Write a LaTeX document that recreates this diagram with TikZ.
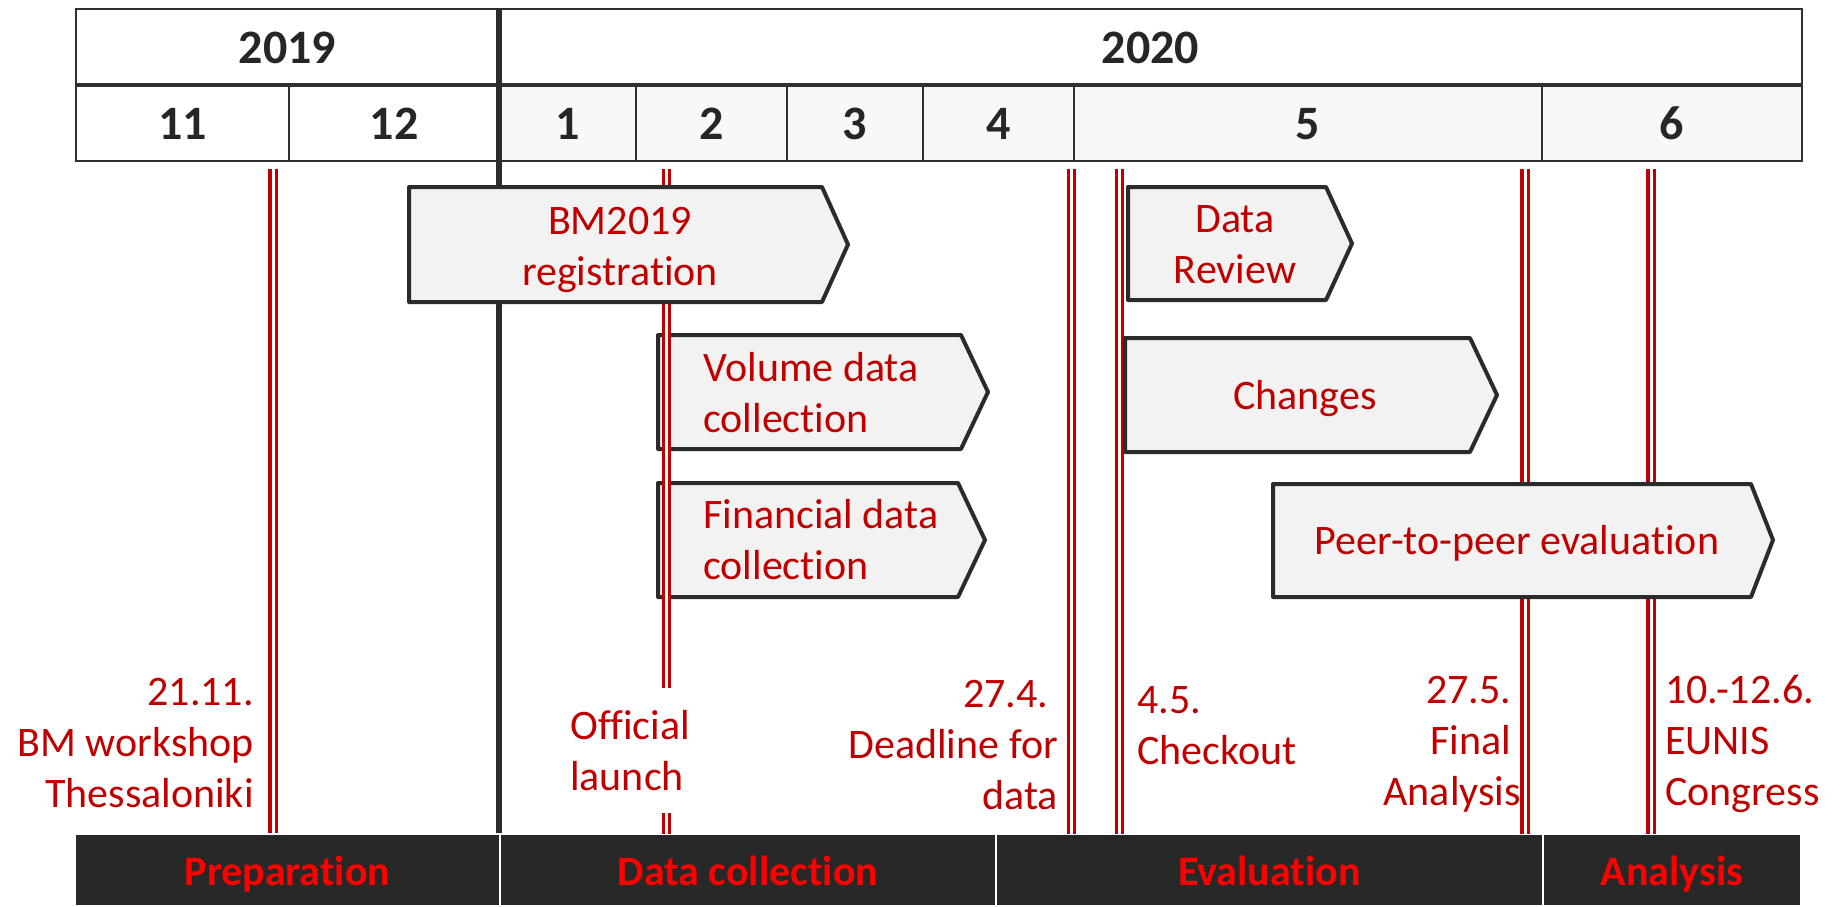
\documentclass[tikz,border=0pt]{standalone}
\usepackage{fontspec}
\setmainfont{Carlito}[Ligatures=NoCommon]
\definecolor{boxfill}{HTML}{F2F2F2}
\definecolor{boxline}{HTML}{2B2B2B}
\definecolor{txtred}{HTML}{C00000}
\definecolor{brightred}{HTML}{FF0000}
\definecolor{barfill}{HTML}{282828}
\definecolor{gridline}{HTML}{303030}
\definecolor{monthfill}{HTML}{F8F8F8}
\definecolor{darktext}{HTML}{262626}
\newcommand\lstr{\rule[-12pt]{0pt}{48pt}}
\tikzset{
  stage/.style={draw=boxline, fill=boxfill, line width=4pt, line join=round},
  redtext/.style={inner sep=0pt, text=txtred, font=\fontsize{42}{51}\selectfont},
  milestone/.style={draw=txtred, double=white, line width=3.1pt, double distance=3pt},
  phasebar/.style={fill=barfill},
  phasetext/.style={inner sep=0pt, text=brightred, font=\bfseries\fontsize{42}{51}\selectfont},
  gridouter/.style={draw=gridline, line width=2.6pt},
  gridinner/.style={draw=gridline, line width=2pt},
  headtext/.style={inner sep=0pt, text=darktext, font=\bfseries\fontsize{48}{58}\selectfont},
}
\begin{document}
\begin{tikzpicture}[x=1pt,y=-1pt]
\fill[white] (0,0) rectangle (1841,906);
\useasboundingbox (0,0) rectangle (1841,906);

% ---------- header table ----------
\fill[monthfill] (499,85) rectangle (1802,161);
\draw[gridouter] (76,9) rectangle (1802,161);
\draw[gridouter, line width=3.2pt] (76,85) -- (1802,85);
\foreach \x in {289,636,787,923,1074,1542} \draw[gridinner] (\x,85) -- (\x,161);
\draw[line width=5.5pt, draw=boxline] (499,9) -- (499,833);

\node[headtext, anchor=base] (y2019) at (287.5,63) {2019};
\node[headtext, anchor=base] (y2020) at (1150.5,63) {2020};
\node[headtext, anchor=base] (m11) at (182.5,139) {11};
\node[headtext, anchor=base] (m12) at (394,139) {12};
\node[headtext, anchor=base] (m1) at (567.5,139) {1};
\node[headtext, anchor=base] (m2) at (711.5,139) {2};
\node[headtext, anchor=base] (m3) at (855,139) {3};
\node[headtext, anchor=base] (m4) at (998.5,139) {4};
\node[headtext, anchor=base] (m5) at (1308,139) {5};
\node[headtext, anchor=base] (m6) at (1672,139) {6};

% ---------- stages below the milestone lines ----------
\draw[stage] (658,335) -- (961,335) -- (988,392) -- (961,449) -- (658,449) -- cycle;
\draw[stage] (658,483) -- (958,483) -- (985,540) -- (958,597) -- (658,597) -- cycle;

% ---------- milestone lines ----------
\draw[milestone] (273,169) -- (273,833);
\draw[milestone] (666.5,169) -- (666.5,688);
\draw[milestone] (666.5,813) -- (666.5,834);
\draw[milestone] (1071.5,169) -- (1071.5,834);
\draw[milestone] (1119.5,169) -- (1119.5,834);
\draw[milestone] (1525,169) -- (1525,834);
\draw[milestone] (1651,169) -- (1651,834);

% ---------- stages above the milestone lines ----------
\draw[stage] (409,187) -- (822,187) -- (848,244.5) -- (822,302) -- (409,302) -- cycle;
\draw[stage] (1128,187) -- (1326,187) -- (1352,243.5) -- (1326,300) -- (1128,300) -- cycle;
\draw[stage] (1125,338) -- (1470,338) -- (1497,395) -- (1470,452) -- (1125,452) -- cycle;
\draw[stage] (1273,484) -- (1751,484) -- (1773,540) -- (1751,597) -- (1273,597) -- cycle;

% ---------- stage texts ----------
\node[redtext, align=center] (treg) at (620,247.5) {\lstr BM2019\\registration\lstr};
\node[redtext, align=left, anchor=west] (tvol) at (703,395) {\lstr Volume data\\collection\lstr};
\node[redtext, align=left, anchor=west] (tfin) at (703,542) {\lstr Financial data\\collection\lstr};
\node[redtext, align=center] (tdr) at (1235,245.5) {\lstr Data\\Review\lstr};
\node[redtext, anchor=base] (tch) at (1305,409) {Changes};
\node[redtext, anchor=base] (tp2p) at (1517,554) {Peer-to-peer evaluation};

% ---------- milestone texts ----------
\node[redtext, align=right, anchor=east] (e1) at (254,744.5) {\lstr 21.11.\\BM workshop\\Thessaloniki\lstr};
\node[redtext, align=left, anchor=west] (e2) at (570,753) {\lstr Official\\launch\lstr};
\node[redtext, align=right, anchor=east] (e3) at (1058,746.5) {\lstr 27.4.\kern9.5pt\\Deadline for\\data\lstr};
\node[redtext, align=left, anchor=west] (e4) at (1137,726.5) {\lstr 4.5.\\Checkout\lstr};
\node[redtext, align=right, anchor=east] (e5) at (1521,742) {\lstr 27.5.\kern9.5pt\\Final\kern9.5pt\\Analysis\lstr};
\node[redtext, align=left, anchor=west] (e6) at (1665,742.5) {\lstr 10.-12.6.\\EUNIS\\Congress\lstr};

% ---------- phase bar ----------
\fill[phasebar] (76,835) rectangle (499,905);
\fill[phasebar] (501,835) rectangle (995,905);
\fill[phasebar] (997,835) rectangle (1542,905);
\fill[phasebar] (1544,835) rectangle (1800,905);
\node[phasetext, anchor=base] (pprep) at (287.5,885) {Preparation};
\node[phasetext, anchor=base] (pdata) at (748,885) {Data collection};
\node[phasetext, anchor=base] (peval) at (1269.5,885) {Evaluation};
\node[phasetext, anchor=base] (pana) at (1672,885) {Analysis};
\end{tikzpicture}
\end{document}
